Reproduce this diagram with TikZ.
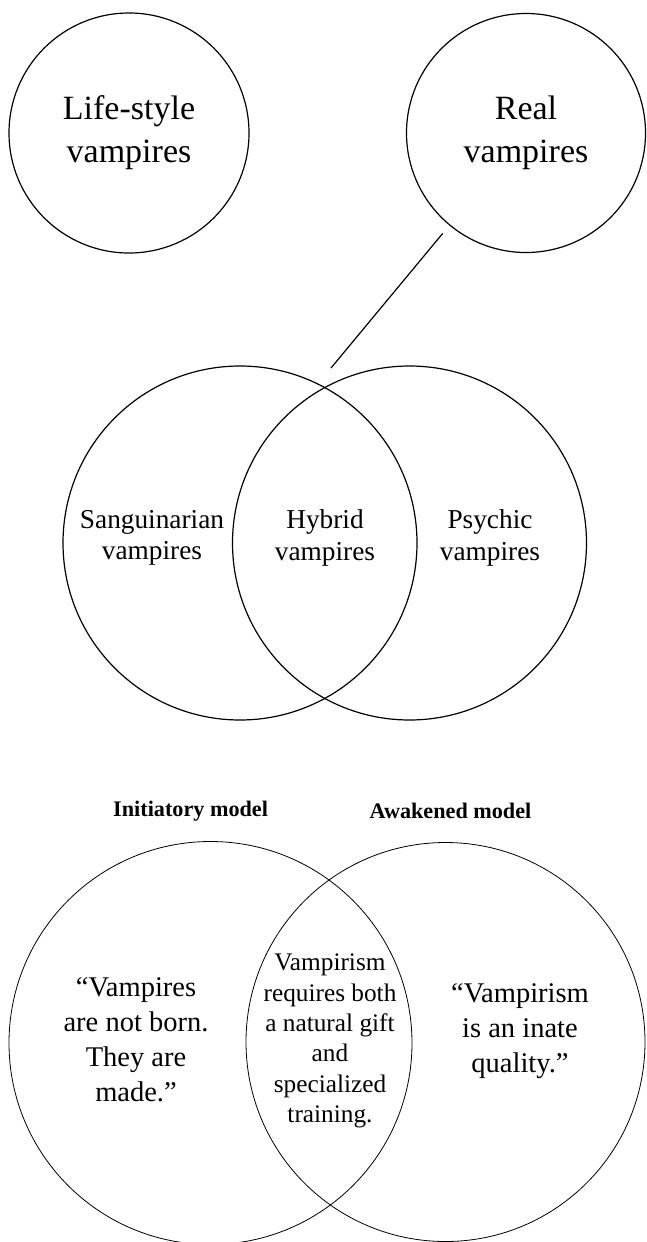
\documentclass[tikz,border=0pt]{standalone}
\usepackage{fontspec}
\setmainfont{Liberation Serif}
\usetikzlibrary{positioning}

\tikzset{
  ring/.style={draw, circle, line width=1.2pt, inner sep=0pt, outer sep=0pt, align=center},
  thinring/.style={ring, line width=0.8pt},
  bigtxt/.style={font=\fontsize{34}{43}\selectfont, align=center},
  midtxt/.style={font=\fontsize{27.3}{31.7}\selectfont, align=center},
  lowtxt/.style={font=\fontsize{28.5}{35}\selectfont, align=center},
  mixtxt/.style={font=\fontsize{25.3}{30.3}\selectfont, align=center},
  headtxt/.style={font=\fontsize{22.2}{26}\selectfont\bfseries}
}

\begin{document}
\begin{tikzpicture}[x=1pt, y=-1pt]
  \useasboundingbox (0,0) rectangle (646,1242);
  % top pair
  \node[ring, minimum size=240pt, bigtxt] (life) at (129,133) {Life-style\\vampires};
  \node[ring, minimum size=239pt, bigtxt] (real) at (526,133) {Real\\vampires};
  \coordinate (hyb) at (331,368);
  \draw[line width=1.2pt, shorten <=11pt] (real) -- (hyb);
  % kinds of real vampires
  \node[ring, minimum size=354pt] (sang) at (240,543) {};
  \node[ring, minimum size=354pt] (psy) at (409.5,543) {};
  \node[midtxt] (sangtxt) at (152,538) {Sanguinarian\\vampires};
  \node[midtxt] (hybtxt) at (325,538) {Hybrid\\vampires};
  \node[midtxt] (psytxt) at (490,538) {Psychic\\vampires};
  % models
  \node[thinring, minimum size=403pt] (init) at (210.5,1043) {};
  \node[thinring, minimum size=399pt] (awak) at (445.5,1042) {};
  \node[headtxt] (inithead) at (190.6,811) {Initiatory model};
  \node[headtxt] (awakhead) at (450.5,811) {Awakened model};
  \node[lowtxt] (inittxt) at (136,1040) {“Vampires\\are not born.\\They are\\made.”};
  \node[mixtxt] (bothtxt) at (330,1041) {Vampirism\\requires both\\a natural gift\\and\\specialized\\training.};
  \node[lowtxt] (awaktxt) at (520,1031) {“Vampirism\\is an inate\\quality.”};
\end{tikzpicture}
\end{document}
